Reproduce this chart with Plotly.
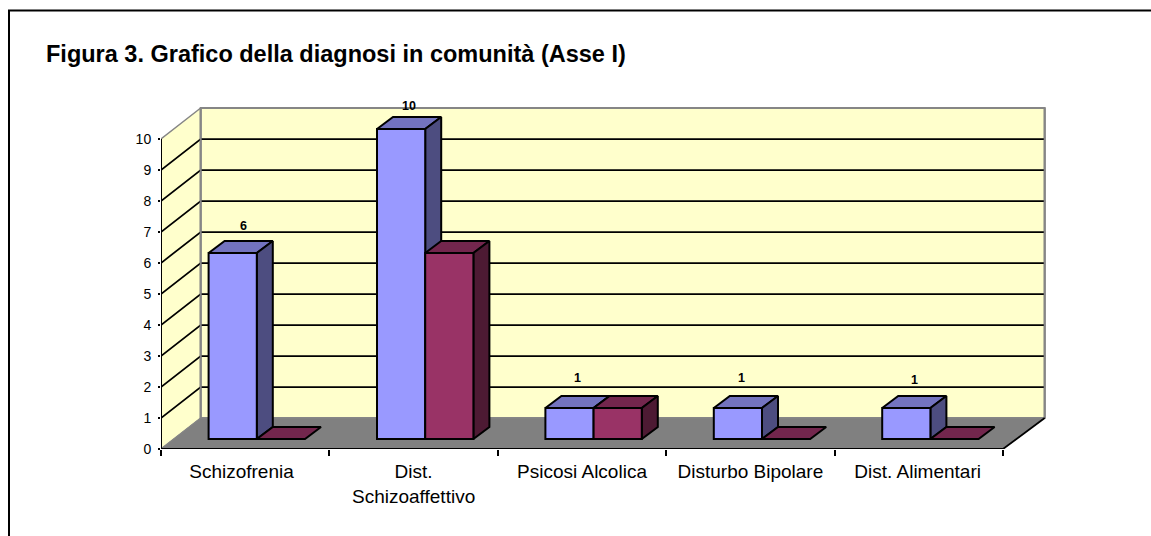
import plotly.graph_objects as go

title_text = "Figura 3. Grafico della diagnosi in comunità (Asse I)"
categories = ["Schizofrenia", "Dist.<br>Schizoaffettivo", "Psicosi Alcolica", "Disturbo Bipolare", "Dist. Alimentari"]
serie_a = [6, 10, 1, 1, 1]
serie_b = [0, 6, 1, 0, 0]
y_ticks = list(range(0, 11))

# pixel scale of the drawing
W, H = 1151, 536
L, R, T, B = 161, 90, 90, 87
PX = 168.4
PY = 31.0
x_max = (W - L - R) / PX
y_max = (H - T - B) / PY
n = len(categories)
wall_x0, wall_x1 = 39.7 / PX, n + 41.7 / PX
wall_dy = 1.0
bar_off, bar_w = 47.6 / PX, 48.2 / PX
floor_y = 10 / PY
depth_x, depth_y = 16 / PX, 12 / PY

C_WALL, C_FLOOR, C_EDGE = "#FFFFCC", "#808080", "#868686"
C_A, C_A_TOP, C_A_SIDE = "#9999FF", "#7373BF", "#4D4D80"
C_B, C_B_TOP, C_B_SIDE = "#993366", "#73264D", "#4D1A33"

fig = go.Figure()


def poly(xs, ys, fill, line="#000000", lw=2):
    fig.add_trace(go.Scatter(x=xs + xs[:1], y=ys + ys[:1], mode="lines", fill="toself", fillcolor=fill,
                             line=dict(color=line, width=lw), hoverinfo="skip", showlegend=False,
                             cliponaxis=False))


def seg(xs, ys, color="#000000", lw=1.75):
    fig.add_trace(go.Scatter(x=xs, y=ys, mode="lines", line=dict(color=color, width=lw),
                             hoverinfo="skip", showlegend=False, cliponaxis=False))


# walls and floor
poly([0, wall_x0, wall_x0, 0], [0, wall_dy, y_ticks[-1] + wall_dy, y_ticks[-1]], C_WALL, C_EDGE, 1.5)
poly([wall_x0, wall_x1, wall_x1, wall_x0], [wall_dy, wall_dy, y_ticks[-1] + wall_dy, y_ticks[-1] + wall_dy],
     C_WALL, C_EDGE, 2)
poly([0, n, wall_x1, wall_x0], [0, 0, wall_dy, wall_dy], C_FLOOR, C_EDGE, 1)

# gridlines (value 10 runs along the grey top edge of the walls)
for k in y_ticks[1:-1]:
    seg([0, wall_x0, wall_x1], [k, k + wall_dy, k + wall_dy])
seg([wall_x0, wall_x0], [wall_dy, y_ticks[-1] + wall_dy], C_EDGE, 2)
seg([wall_x1, wall_x1], [wall_dy, y_ticks[-1] + wall_dy], C_EDGE, 2)
seg([wall_x0, wall_x1], [y_ticks[-1] + wall_dy, y_ticks[-1] + wall_dy], C_EDGE, 2)
seg([n, wall_x1], [0, wall_dy], "#000000", 1.75)
seg([0, 0], [0, y_ticks[-1]], "#000000", 2)
seg([0, n], [0, 0], "#000000", 2)

# 3D faces of the bars
for i in range(n):
    for j, (vals, top, side) in enumerate([(serie_a, C_A_TOP, C_A_SIDE), (serie_b, C_B_TOP, C_B_SIDE)]):
        x0 = i + bar_off + j * bar_w
        x1 = x0 + bar_w
        y1 = floor_y + vals[i]
        poly([x0, x1, x1 + depth_x, x0 + depth_x], [y1, y1, y1 + depth_y, y1 + depth_y], top)
        if vals[i] > 0:
            poly([x1, x1 + depth_x, x1 + depth_x, x1],
                 [floor_y, floor_y + depth_y, y1 + depth_y, y1], side)

# front faces, on an overlay axis pair so they sit above the side faces
fig.add_trace(go.Bar(x=[i + bar_off + bar_w / 2 for i in range(n)], y=serie_a, base=floor_y, width=bar_w,
                     marker=dict(color=C_A, line=dict(color="#000000", width=2)), xaxis="x2", yaxis="y2",
                     hoverinfo="skip", showlegend=False, cliponaxis=False))
fig.add_trace(go.Bar(x=[i + bar_off + bar_w * 1.5 for i in range(n)], y=serie_b, base=floor_y, width=bar_w,
                     marker=dict(color=C_B, line=dict(color="#000000", width=2)), xaxis="x2", yaxis="y2",
                     hoverinfo="skip", showlegend=False, cliponaxis=False))

# value labels
label_shift_x = [35, 31.7, 32, 27.7, 32]
label_shift_y = [26.7, 22.7, 30, 30, 28]
for i, v in enumerate(serie_a):
    fig.add_annotation(x=i + bar_off, y=floor_y + v, text=f"<b>{v}</b>", showarrow=False, xanchor="center",
                       yanchor="middle", xshift=label_shift_x[i], yshift=label_shift_y[i],
                       font=dict(family="Liberation Sans", size=12.5, color="#000000"),
                       xref="x2", yref="y2")


def px(x):
    return (x - L) / (W - L - R)


def py(y):
    return 1 - (y - T) / (H - T - B)


label_nudge = [-3.7 / PX, 0, 0, 0, -1.2 / PX]
fig.update_layout(
    width=W, height=H, margin=dict(l=L, r=R, t=T, b=B, autoexpand=False),
    paper_bgcolor="#FFFFFF", plot_bgcolor="#FFFFFF", barmode="overlay", showlegend=False,
    font=dict(family="Liberation Sans", color="#000000"),
    xaxis=dict(range=[0, x_max], tickvals=[i + 0.5 + label_nudge[i] for i in range(n)], ticktext=categories, ticks="",
               showgrid=False, zeroline=False, showline=False, tickfont=dict(size=19), ticklabelstandoff=9,
               minor=dict(tickvals=list(range(n + 1)), ticks="outside", ticklen=6, tickwidth=1.5, tickcolor="#000000", showgrid=False)),
    yaxis=dict(range=[0, y_max], tickvals=y_ticks, ticks="outside", ticklen=2, tickwidth=1.5, tickcolor="#000000",
               showgrid=False, zeroline=False, showline=False, tickfont=dict(size=14), ticklabelstandoff=4),
    xaxis2=dict(range=[0, x_max], overlaying="x", visible=False),
    yaxis2=dict(range=[0, y_max], overlaying="y", visible=False),
    title=dict(text=f"<b>{title_text}</b>", x=46 / W, xanchor="left", xref="container", y=1 - 54 / H, yanchor="middle",
               yref="container", font=dict(family="Liberation Sans", size=23.5, color="#000000")),
    shapes=[dict(type="path", xref="paper", yref="paper",
                 path=f"M {px(9)} {py(H)} L {px(9)} {py(10.5)} L {px(W)} {py(10.5)}",
                 line=dict(color="#000000", width=2))],
)

fig.write_html("out.html", config={"displayModeBar": False},
               post_script="document.body.style.margin='0';document.body.style.overflow='hidden';")
